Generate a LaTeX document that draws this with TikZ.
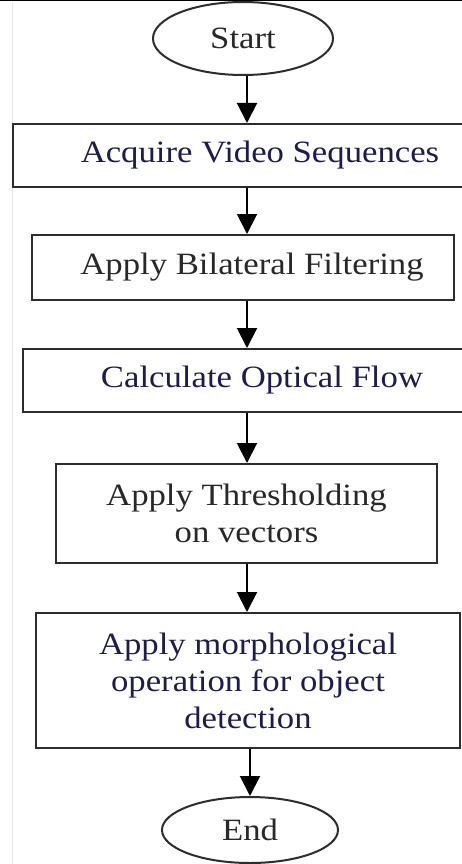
\documentclass[tikz,border=0pt]{standalone}
\usepackage{fontspec}
\setmainfont{Liberation Serif}[FakeStretch=1.12]
\usetikzlibrary{arrows.meta,shapes.geometric}
\definecolor{edgegray}{RGB}{45,45,45}
\definecolor{textgray}{RGB}{40,40,40}
\definecolor{textnavy}{RGB}{28,28,80}
\begin{document}
\begin{tikzpicture}[x=1pt,y=1pt]
\tikzstyle{every node}+=[inner sep=0pt, font=\fontsize{31}{37}\selectfont]
\tikzstyle{box}=[draw=edgegray, line width=2pt, align=center]
\tikzstyle{term}=[ellipse, draw=edgegray, line width=2pt, text=textgray]
\tikzstyle{flow}=[line width=2pt, black, -{Triangle[width=20pt,length=20pt]}]
\useasboundingbox (0,0) rectangle (462,-864);
\clip (0,0) rectangle (462,-864);
\fill [white] (0,0) rectangle (462,-864);
\draw [black, line width=2pt] (0,-0.5) -- (462,-0.5);
\draw [gray!20, line width=0.8pt] (12,-2) -- (12,-864);
\coordinate (axis) at (247,0);
% terminals
\node [term, minimum width=180, minimum height=73] (start) at (243,-38.5) {Start};
\node [term, minimum width=176, minimum height=66] (end) at (250,-830) {End};
% steps
\node [box, text=textnavy, minimum width=455, minimum height=63] (acq) at (240.5,-155.5) {\hspace*{39pt}Acquire Video Sequences};
\node [box, text=textgray, minimum width=422, minimum height=65] (filt) at (243,-267.5) {\hspace*{18pt}Apply Bilateral Filtering};
\node [box, text=textnavy, minimum width=445, minimum height=63] (flowcalc) at (245.5,-380.5) {\hspace*{33pt}Calculate Optical Flow};
\node [box, text=textgray, minimum width=381, minimum height=99] (thresh) at (246.5,-513.5) {Apply Thresholding\\on vectors};
\node [box, text=textnavy, minimum width=424, minimum height=135] (morph) at (248,-680.5) {Apply morphological\\operation for object\\detection};
% arrows
\draw [flow] (start.south -| axis) -- (acq.north -| axis);
\draw [flow] (acq.south -| axis) -- (filt.north -| axis);
\draw [flow] (filt.south -| axis) -- (flowcalc.north -| axis);
\draw [flow] (flowcalc.south -| axis) -- (thresh.north -| axis);
\draw [flow] (thresh.south -| axis) -- (morph.north -| axis);
\draw [flow] (morph.south -| end) -- (end);
\end{tikzpicture}
\end{document}
